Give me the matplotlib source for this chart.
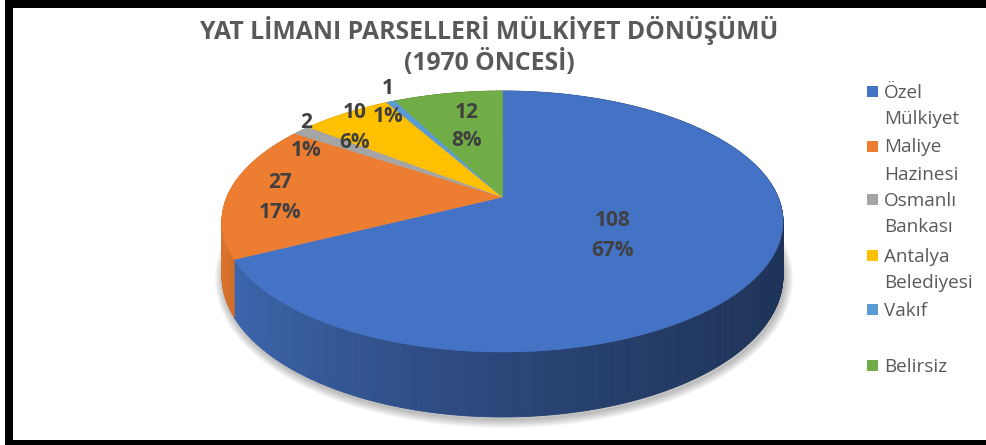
import matplotlib
matplotlib.use("Agg")
import matplotlib.pyplot as plt
from matplotlib.patches import Polygon, Rectangle
import numpy as np

# data
categories = ["Özel\nMülkiyet", "Maliye\nHazinesi", "Osmanlı\nBankası",
              "Antalya\nBelediyesi", "Vakıf", "Belirsiz"]
values = [108, 27, 2, 10, 1, 12]
pct_labels = ["67%", "17%", "1%", "6%", "1%", "8%"]
colors = ["#4472C4", "#ED7D31", "#A5A5A5", "#FFC000", "#5B9BD5", "#70AD47"]

title_lines = ["YAT LİMANI PARSELLERİ MÜLKİYET DÖNÜŞÜMÜ", "(1970 ÖNCESİ)"]

# layout (pixels)
W, H = 987, 445
CX, CY = 502.5, 197.0     # projected pie centre
A, B = 275.5, 125.9       # radii before perspective
K = 0.1877                # perspective strength
D = 52.8                  # thickness
label_xy = [(613, 221), (280, 183), (306, 122), (355, 113), (388, 88), (467, 112)]
LINE = 29

plt.rcParams['font.family'] = ['Open Sans', 'DejaVu Sans']

fig = plt.figure(figsize=(W / 100, H / 100), dpi=100)
ax = fig.add_axes([0, 0, 1, 1])
ax.set_xlim(0, W)
ax.set_ylim(H, 0)
ax.axis("off")


def proj(theta, depth=0.0):
    # theta in degrees, clockwise from 12 o'clock
    t = np.radians(theta)
    u, v = np.sin(t), np.cos(t)
    s = 1.0 / (1.0 + K * v)
    return CX + A * u * s, CY - B * v * s + depth * s


def shade(c, f):
    rgb = np.array(matplotlib.colors.to_rgb(c))
    return tuple(np.clip(rgb * f, 0, 1))


total = sum(values)
bounds = np.concatenate([[0], np.cumsum(values) / total * 360])

# soft shadow under the pie
th = np.linspace(0, 360, 361)
bx, by = proj(th, D)
for i in range(8):
    ax.add_patch(Polygon(np.column_stack([bx + 1.5, by + 2.5]), closed=True,
                         fill=False, edgecolor="black", lw=1 + i * 1.6,
                         alpha=0.035, joinstyle="round", zorder=1))

# side wall
for i, c in enumerate(colors):
    a0, a1 = bounds[i], bounds[i + 1]
    n = max(2, int((a1 - a0) / 0.5))
    ts = np.linspace(a0, a1, n + 1)
    for t0, t1 in zip(ts[:-1], ts[1:]):
        x0, y0 = proj(t0)
        x1, y1 = proj(t1)
        x0b, y0b = proj(t0, D)
        x1b, y1b = proj(t1, D)
        u = np.sin(np.radians((t0 + t1) / 2))
        f = 0.45 + 0.47 * ((1 - u) / 2) ** 1.5
        ax.add_patch(Polygon([(x0, y0), (x1, y1), (x1b, y1b), (x0b, y0b)],
                             closed=True, facecolor=shade(c, f),
                             edgecolor=shade(c, f), lw=0.6, zorder=2))

# top face
for i, c in enumerate(colors):
    a0, a1 = bounds[i], bounds[i + 1]
    ts = np.linspace(a0, a1, max(3, int((a1 - a0) * 2)))
    xs, ys = proj(ts)
    pts = [(CX, CY)] + list(zip(xs, ys))
    ax.add_patch(Polygon(pts, closed=True, facecolor=c, edgecolor=c,
                         lw=0.4, zorder=3))

# data labels
for (lx, ly), v, p in zip(label_xy, values, pct_labels):
    ax.text(lx, ly, str(v), ha="center", va="center", fontsize=15,
            fontweight="bold", color="#404040", zorder=5)
    ax.text(lx, ly + LINE, p, ha="center", va="center", fontsize=15,
            fontweight="bold", color="#404040", zorder=5)

# title
for k, line in enumerate(title_lines):
    ax.text(489, 30 + 32 * k, line, ha="center", va="center", fontsize=17.8,
            fontweight="bold", color="#595959")

# legend
leg_y = [91, 146, 199, 255, 309, 365]
for y, c, lab in zip(leg_y, colors, categories):
    ax.add_patch(Rectangle((867, y - 5.5), 11, 11, facecolor=c, edgecolor="none"))
    for k, part in enumerate(lab.split("\n")):
        ax.text(884, y + 1.5 + 27 * k, part, ha="left", va="center",
                fontsize=13.6, color="#595959")

# black frame
for r in [(5, 0, 8, H), (5, 0, W, 8), (5, 440, W, 5)]:
    ax.add_patch(Rectangle((r[0], r[1]), r[2], r[3], facecolor="black",
                           edgecolor="none", zorder=6))

plt.savefig("out.png", dpi=100)
